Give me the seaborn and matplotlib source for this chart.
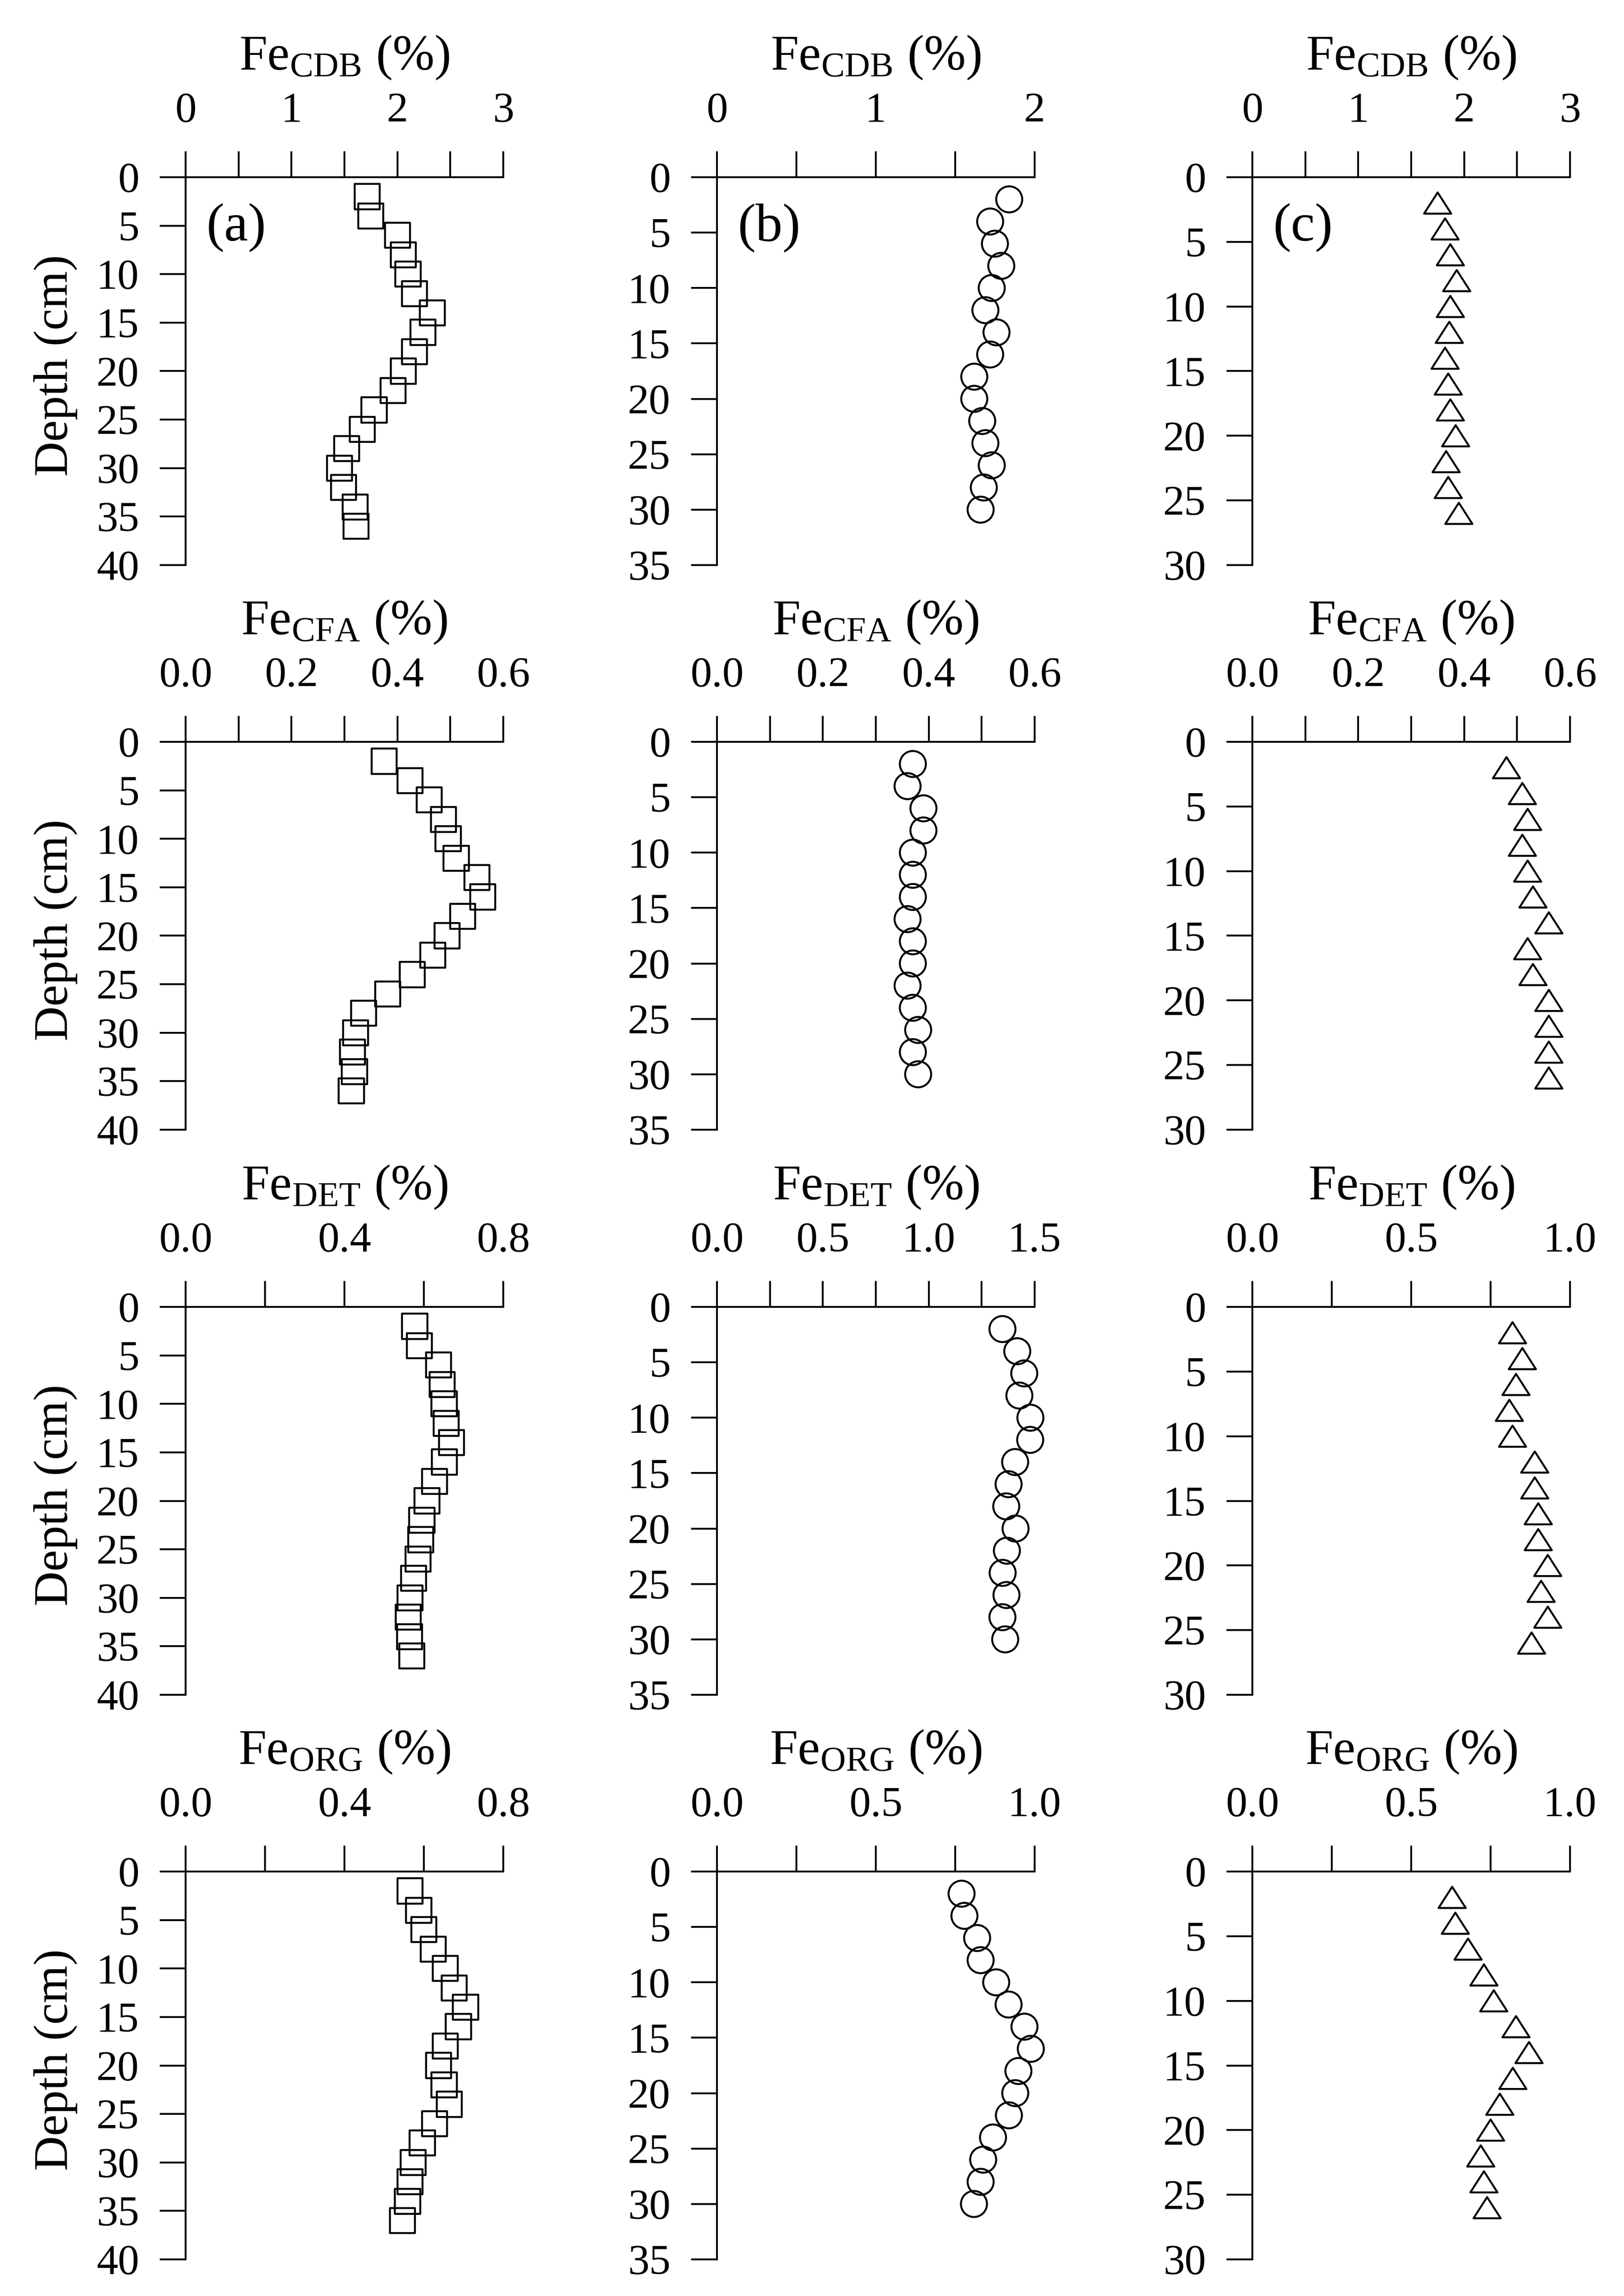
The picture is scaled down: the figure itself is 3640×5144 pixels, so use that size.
import numpy as np
import pandas as pd
import matplotlib
matplotlib.use('Agg')
import matplotlib.pyplot as plt
import seaborn as sns
from matplotlib.path import Path
from matplotlib.ticker import FixedLocator, FormatStrFormatter

sns.set_style('ticks')
plt.rcParams['font.family'] = ['Liberation Serif', 'DejaVu Serif']
plt.rcParams['mathtext.fontset'] = 'custom'
plt.rcParams['mathtext.rm'] = 'Liberation Serif'
plt.rcParams['mathtext.it'] = 'Liberation Serif:italic'
plt.rcParams['mathtext.bf'] = 'Liberation Serif:bold'

# ---------------- data ----------------
depth_a = [2, 4, 6, 8, 10, 12, 14, 16, 18, 20, 22, 24, 26, 28, 30, 32, 34, 36]
depth_b = [2, 4, 6, 8, 10, 12, 14, 16, 18, 20, 22, 24, 26, 28, 30]
depth_c = [2, 4, 6, 8, 10, 12, 14, 16, 18, 20, 22, 24, 26]

cdb_a = [1.715, 1.75, 2.00, 2.055, 2.10, 2.16, 2.33, 2.24, 2.16, 2.055, 1.96, 1.78,
         1.67, 1.52, 1.455, 1.49, 1.60, 1.61]
cdb_b = [1.84, 1.72, 1.75, 1.79, 1.73, 1.69, 1.76, 1.72, 1.62, 1.62, 1.67, 1.69,
         1.73, 1.68, 1.66]
cdb_c = [1.75, 1.82, 1.87, 1.93, 1.87, 1.86, 1.82, 1.85, 1.87, 1.92, 1.83, 1.85, 1.95]

cfa_a = [0.375, 0.424, 0.460, 0.487, 0.496, 0.511, 0.550, 0.561, 0.523, 0.494, 0.467,
         0.428, 0.382, 0.336, 0.321, 0.315, 0.319, 0.313]
cfa_b = [0.370, 0.360, 0.390, 0.390, 0.370, 0.370, 0.370, 0.360, 0.370, 0.370, 0.360,
         0.370, 0.380, 0.370, 0.380]
cfa_c = [0.48, 0.51, 0.52, 0.51, 0.52, 0.53, 0.56, 0.52, 0.53, 0.56, 0.56, 0.56, 0.56]

det_a = [0.577, 0.589, 0.637, 0.646, 0.651, 0.656, 0.670, 0.652, 0.627, 0.608, 0.595,
         0.592, 0.585, 0.574, 0.565, 0.561, 0.564, 0.570]
det_b = [1.348, 1.418, 1.451, 1.428, 1.480, 1.479, 1.408, 1.377, 1.366, 1.410, 1.369,
         1.349, 1.367, 1.348, 1.361]
det_c = [0.819, 0.850, 0.830, 0.809, 0.819, 0.889, 0.889, 0.900, 0.900, 0.930, 0.909,
         0.930, 0.879]

org_a = [0.565, 0.587, 0.600, 0.624, 0.654, 0.676, 0.705, 0.687, 0.654, 0.637, 0.651,
         0.664, 0.627, 0.596, 0.573, 0.565, 0.559, 0.546]
org_b = [0.770, 0.779, 0.819, 0.830, 0.879, 0.918, 0.968, 0.988, 0.949, 0.939, 0.919,
         0.869, 0.838, 0.830, 0.809]
org_c = [0.629, 0.639, 0.679, 0.729, 0.760, 0.830, 0.871, 0.820, 0.779, 0.750, 0.719,
         0.729, 0.739]

row_titles = [r'Fe$_{\mathregular{CDB}}$ (%)', r'Fe$_{\mathregular{CFA}}$ (%)',
              r'Fe$_{\mathregular{DET}}$ (%)', r'Fe$_{\mathregular{ORG}}$ (%)']
panel_labels = ['(a)', '(b)', '(c)']
depth_label = 'Depth (cm)'

# x-axis ticks (labelled / unlabelled) per panel
xmajor_cdb_a = [0, 1, 2, 3];          xminor_cdb_a = [0.5, 1.5, 2.5]
xmajor_cdb_b = [0, 1, 2];             xminor_cdb_b = [0.5, 1.5]
xmajor_cdb_c = [0, 1, 2, 3];          xminor_cdb_c = [0.5, 1.5, 2.5]
xmajor_cfa = [0.0, 0.2, 0.4, 0.6];    xminor_cfa = [0.1, 0.3, 0.5]
xmajor_det_a = [0.0, 0.4, 0.8];       xminor_det_a = [0.2, 0.6]
xmajor_det_b = [0.0, 0.5, 1.0, 1.5];  xminor_det_b = [0.25, 0.75, 1.25]
xmajor_det_c = [0.0, 0.5, 1.0];       xminor_det_c = [0.25, 0.75]
xmajor_org_a = [0.0, 0.4, 0.8];       xminor_org_a = [0.2, 0.6]
xmajor_org_b = [0.0, 0.5, 1.0];       xminor_org_b = [0.25, 0.75]
xmajor_org_c = [0.0, 0.5, 1.0];       xminor_org_c = [0.25, 0.75]

yticks_a = [0, 5, 10, 15, 20, 25, 30, 35, 40]
yticks_b = [0, 5, 10, 15, 20, 25, 30, 35]
yticks_c = [0, 5, 10, 15, 20, 25, 30]

# ---------------- assemble ----------------
values = [[cdb_a, cdb_b, cdb_c], [cfa_a, cfa_b, cfa_c],
          [det_a, det_b, det_c], [org_a, org_b, org_c]]
depths = [depth_a, depth_b, depth_c]
yticks = [yticks_a, yticks_b, yticks_c]
xmajors = [[xmajor_cdb_a, xmajor_cdb_b, xmajor_cdb_c],
           [xmajor_cfa, xmajor_cfa, xmajor_cfa],
           [xmajor_det_a, xmajor_det_b, xmajor_det_c],
           [xmajor_org_a, xmajor_org_b, xmajor_org_c]]
xminors = [[xminor_cdb_a, xminor_cdb_b, xminor_cdb_c],
           [xminor_cfa, xminor_cfa, xminor_cfa],
           [xminor_det_a, xminor_det_b, xminor_det_c],
           [xminor_org_a, xminor_org_b, xminor_org_c]]
xfmt = ['%d', '%.1f', '%.1f', '%.1f']

tri = Path([(0, 0.78), (-1, -0.78), (1, -0.78), (0, 0.78)],
           [Path.MOVETO, Path.LINETO, Path.LINETO, Path.CLOSEPOLY])
markers = ['s', 'o', tri]
msize = [13.5 ** 2, 14.0 ** 2, 14.6 ** 2]

W, H = 3640, 5144
fig = plt.figure(figsize=(W / 300, H / 300), dpi=300)

lefts = [416 / W, 1607 / W, 2807 / W]
tops = [397 / H, 1662 / H, 2928 / H, 4193 / H]
aw = 712 / W
ah = 869 / H

for r in range(4):
    for c in range(3):
        ax = fig.add_axes([lefts[c], 1 - tops[r] - ah, aw, ah])
        xs = values[r][c]
        ys = depths[c]
        df = pd.DataFrame({'x': xs, 'depth': ys})
        sns.scatterplot(data=df, x='x', y='depth', ax=ax, marker=markers[c],
                        s=msize[c], color='none', edgecolor='black',
                        linewidth=1.05, clip_on=False, legend=False, zorder=3)
        xmaj = xmajors[r][c]
        xmin_ = xminors[r][c]
        ax.set_xlim(0, xmaj[-1])
        ax.set_ylim(yticks[c][-1], 0)
        ax.xaxis.tick_top()
        ax.xaxis.set_label_position('top')
        ax.xaxis.set_major_locator(FixedLocator(xmaj))
        ax.xaxis.set_minor_locator(FixedLocator(xmin_))
        ax.xaxis.set_major_formatter(FormatStrFormatter(xfmt[r]))
        ax.yaxis.set_major_locator(FixedLocator(yticks[c]))
        ax.yaxis.set_minor_locator(FixedLocator([]))
        for sp in ['right', 'bottom']:
            ax.spines[sp].set_visible(False)
        for sp in ['top', 'left']:
            ax.spines[sp].set_linewidth(1.0)
            ax.spines[sp].set_color('black')
        ax.tick_params(axis='x', which='both', direction='out', length=14,
                       width=1.0, color='black', top=True, bottom=False,
                       labeltop=True, labelbottom=False, pad=11,
                       labelsize=23, labelcolor='black')
        ax.tick_params(axis='y', which='both', direction='out', length=14,
                       width=1.0, color='black', left=True, right=False,
                       pad=11, labelsize=23, labelcolor='black')
        ax.set_xlabel(row_titles[r], fontsize=27, labelpad=12, color='black')
        if c == 0:
            ax.set_ylabel(depth_label, fontsize=26, color='black')
            ax.yaxis.set_label_coords(-0.34, 0.515)
        else:
            ax.set_ylabel('')
        if r == 0:
            ax.text(0.065, 0.87, panel_labels[c], transform=ax.transAxes,
                    fontsize=29, ha='left', va='center', color='black')
        ax.set_facecolor('white')

fig.savefig('out.png', dpi=300, facecolor='white')
